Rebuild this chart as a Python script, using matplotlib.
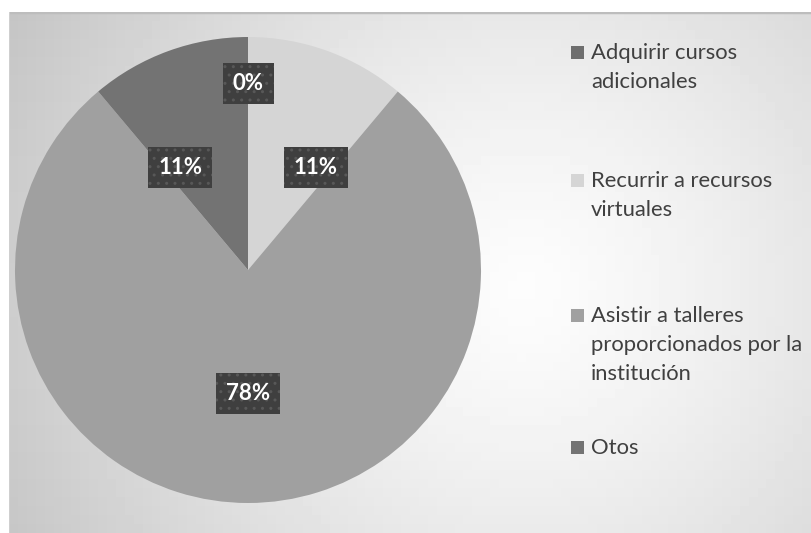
import numpy as np
import matplotlib.pyplot as plt
from matplotlib.patches import Rectangle

# datos de la encuesta (conteos)
categorias = ["Adquirir cursos\nadicionales",
              "Recurrir a recursos\nvirtuales",
              "Asistir a talleres\nproporcionados por la\ninstitución",
              "Otos"]
valores = [0, 1, 7, 1]
colores = ["#6e6e6e", "#d5d5d5", "#a0a0a0", "#737373"]

plt.rcParams['font.family'] = ['Lato', 'DejaVu Sans']

W, H = 811, 533
fig = plt.figure(figsize=(W / 100, H / 100), dpi=100)
fig.patch.set_facecolor("white")

# fondo del area del grafico: degradado radial en bloques
x0, y0 = 9, 12
bg = fig.add_axes([x0 / W, 0, 1 - x0 / W, (H - y0) / H])
bs = 9
gx = np.arange(x0, W, bs) + bs / 2
gy = np.arange(y0, H, bs) + bs / 2
XX, YY = np.meshgrid(gx, gy)
d = np.hypot(XX - 530, YY - 290)
grad = 0.99 - 0.22 * (d / 590.0) ** 1.3
bg.imshow(grad, cmap="gray", vmin=0, vmax=1, aspect="auto",
          interpolation="nearest", extent=[0, 1, 0, 1])
bg.plot([0, 1], [1, 1], color="#bdbdbd", lw=2.5, transform=bg.transAxes)
bg.plot([0, 0], [0, 1], color="#cfcfcf", lw=1.5, transform=bg.transAxes)
bg.set_xlim(0, 1)
bg.set_ylim(0, 1)
bg.axis("off")

# torta
cx, cy, r = 248, 270, 233
ax = fig.add_axes([(cx - r) / W, (H - cy - r) / H, 2 * r / W, 2 * r / H])
wedges, _ = ax.pie(valores, colors=colores, startangle=90, counterclock=False,
                   radius=1.0, wedgeprops=dict(linewidth=0))
ax.set_xlim(-1, 1)
ax.set_ylim(-1, 1)
ax.set_aspect("equal")
ax.axis("off")

total = sum(valores)
pos_etiquetas = [(0, 0.80), (0.29, 0.44), (0, -0.53), (-0.29, 0.44)]
for v, (lx, ly) in zip(valores, pos_etiquetas):
    ax.text(lx, ly, f"{round(100 * v / total)}%", ha="center", va="center",
            color="white", fontsize=16, fontweight="bold",
            bbox=dict(boxstyle="square,pad=0.45", facecolor="#3f3f3f",
                      edgecolor="#585858", hatch="..", linewidth=0))

# leyenda manual
ley_y = [52, 180, 315, 447]
for lab, col, yy in zip(categorias, colores, ley_y):
    fig.patches.append(Rectangle((571 / W, (H - yy - 7) / H), 13 / W, 13 / H,
                                 transform=fig.transFigure, facecolor=col,
                                 edgecolor="none"))
    fig.text(591 / W, (H - yy + 9) / H, lab, ha="left", va="top",
             fontsize=15.8, color="#404040", linespacing=1.55)

fig.savefig("out.png", dpi=100)
